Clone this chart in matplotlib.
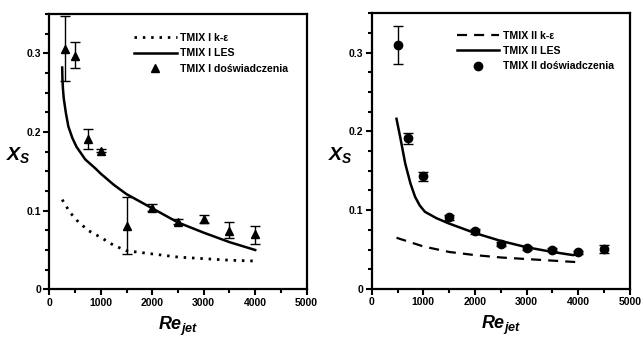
import numpy as np
import matplotlib
matplotlib.use('Agg')
import matplotlib.pyplot as plt
from matplotlib.ticker import MultipleLocator, FuncFormatter

plt.rcParams['font.family'] = 'Liberation Sans'
plt.rcParams['font.weight'] = 'bold'
plt.rcParams['mathtext.fontset'] = 'custom'
plt.rcParams['mathtext.it'] = 'Liberation Sans:italic:bold'
plt.rcParams['mathtext.rm'] = 'Liberation Sans:bold'

# TMIX I data
re1_exp = [300, 500, 750, 1000, 1500, 2000, 2500, 3000, 3500, 4000]
xs1_exp = [0.305, 0.296, 0.191, 0.176, 0.080, 0.103, 0.086, 0.089, 0.074, 0.070]
err1_lo = [0.040, 0.015, 0.013, 0.002, 0.035, 0.004, 0.003, 0.005, 0.009, 0.012]
err1_hi = [0.042, 0.018, 0.013, 0.002, 0.038, 0.005, 0.003, 0.005, 0.011, 0.011]

re1_les = [250, 255, 265, 280, 320, 370, 450, 530, 700, 890, 1000, 1250, 1500, 2000, 2500, 3000, 3500, 4000]
xs1_les = [0.282, 0.268, 0.255, 0.243, 0.225, 0.207, 0.192, 0.181, 0.165, 0.154, 0.147, 0.133, 0.121, 0.103, 0.085, 0.072, 0.060, 0.050]

re1_ke = [250, 400, 530, 750, 1000, 1250, 1500, 2000, 2500, 3000, 3500, 4000]
xs1_ke = [0.114, 0.098, 0.088, 0.075, 0.066, 0.056, 0.049, 0.045, 0.041, 0.039, 0.037, 0.036]

# TMIX II data
re2_exp = [500, 700, 1000, 1500, 2000, 2500, 3000, 3500, 4000, 4500]
xs2_exp = [0.310, 0.191, 0.143, 0.091, 0.073, 0.057, 0.052, 0.050, 0.0465, 0.051]
err2 = [0.024, 0.0065, 0.006, 0.003, 0.003, 0.003, 0.002, 0.002, 0.002, 0.005]

re2_les = [480, 560, 650, 750, 840, 930, 1030, 1250, 1500, 2000, 2500, 3000, 3500, 3900, 4000]
xs2_les = [0.216, 0.190, 0.159, 0.134, 0.117, 0.106, 0.098, 0.090, 0.083, 0.071, 0.061, 0.053, 0.047, 0.043, 0.044]

re2_ke = [480, 1000, 1500, 2000, 2500, 3000, 3500, 4000]
xs2_ke = [0.065, 0.054, 0.047, 0.043, 0.040, 0.038, 0.036, 0.034]

fig = plt.figure(figsize=(6.42, 3.38), dpi=100)
ax1 = fig.add_axes([0.0768, 0.144, 0.4009, 0.8146])
ax2 = fig.add_axes([0.579, 0.145, 0.402, 0.816])


def style_axis(ax):
    ax.set_xlim(0, 5000)
    ax.set_ylim(0, 0.35)
    ax.xaxis.set_major_locator(MultipleLocator(1000))
    ax.xaxis.set_minor_locator(MultipleLocator(500))
    ax.yaxis.set_major_locator(MultipleLocator(0.1))
    ax.yaxis.set_minor_locator(MultipleLocator(0.025))
    ax.yaxis.set_major_formatter(FuncFormatter(lambda v, p: f'{v:g}'))
    ax.tick_params(which='major', direction='out', length=4, width=1.5, labelsize=7.5, pad=2)
    ax.tick_params(which='minor', direction='out', length=3, width=1.5)
    for s in ax.spines.values():
        s.set_linewidth(1.6)
    for lab in ax.get_xticklabels() + ax.get_yticklabels():
        lab.set_fontweight('bold')
    ax.set_xlabel(r'$Re_{jet}$', fontsize=13, labelpad=5)
    ax.set_ylabel(r'$X_S$', fontsize=14, rotation=0, labelpad=4)
    ax.yaxis.set_label_coords(-0.12, 0.45)


leg_kw = dict(loc='upper left', frameon=False, handlelength=4.0, handletextpad=0.35,
              labelspacing=0.5, borderpad=0, prop={'weight': 'bold', 'size': 7.6})

# left panel
ax1.plot(re1_ke, xs1_ke, color='black', lw=2, linestyle=(0, (0.9, 2.1)), label='TMIX I k-ε')
ax1.plot(re1_les, xs1_les, color='black', lw=1.8, label='TMIX I LES')
ax1.errorbar(re1_exp, xs1_exp, yerr=[err1_lo, err1_hi], fmt='none', ecolor='black',
             elinewidth=1, capsize=3.5, capthick=1)
ax1.plot(re1_exp, xs1_exp, '^', color='black', ms=6, label='TMIX I doświadczenia')
style_axis(ax1)
ax1.legend(bbox_to_anchor=(0.31, 0.95), **leg_kw)

# right panel
ax2.plot(re2_ke, xs2_ke, color='black', lw=1.6, linestyle=(0, (4.5, 3.2)), label='TMIX II k-ε')
ax2.plot(re2_les, xs2_les, color='black', lw=1.8, label='TMIX II LES')
ax2.errorbar(re2_exp, xs2_exp, yerr=err2, fmt='none', ecolor='black',
             elinewidth=1, capsize=3.5, capthick=1)
ax2.plot(re2_exp, xs2_exp, 'o', color='black', ms=6, label='TMIX II doświadczenia')
style_axis(ax2)
ax2.legend(bbox_to_anchor=(0.31, 0.955), **leg_kw)

fig.savefig('out.png', dpi=100, facecolor='white')
